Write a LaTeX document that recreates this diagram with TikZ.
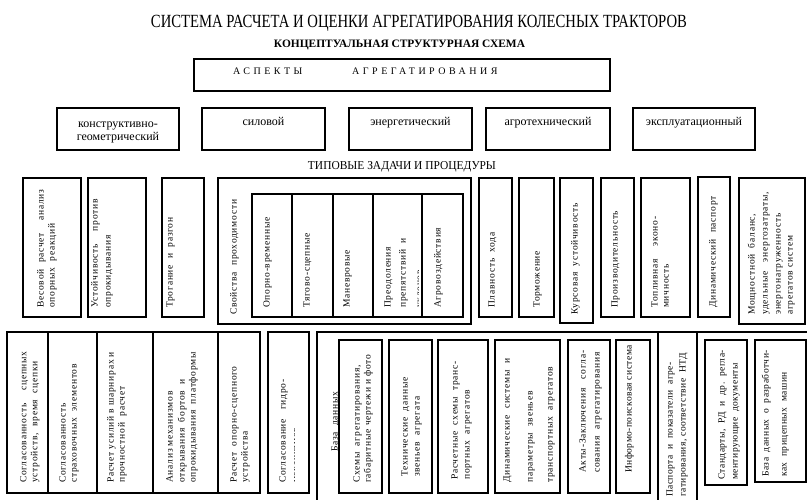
\documentclass[tikz,border=0pt]{standalone}
\usepackage{fontspec}
\setmainfont{Liberation Serif}
\newfontfamily\vfont[LetterSpace=8]{Liberation Serif}
\newfontfamily\mfont[LetterSpace=5]{Liberation Serif}
\newfontfamily\wfont[LetterSpace=35]{Liberation Serif}
\newcommand\Bx[6][]{\node[bx,#1, minimum width={(#4-#2)*1pt}, minimum height={(#6-#3)*1pt}] (#5) at ({(#2+#4)/2},{(#3+#6)/2}) {};}
\newcommand\Vt[4]{\node[vt] (#1) at ({#2+2.5},#3) {#4};}
\newcommand\Vm[4]{\node[vt, font=\mfont\fontsize{9.5}{11}\selectfont] (#1) at ({#2+2.5},#3) {#4};}
\begin{document}
\begin{tikzpicture}[x=1pt,y=-1pt,
  bx/.style={draw, line width=1.5pt, inner sep=0pt, outer sep=0pt},
  frame/.style={draw, line width=1.5pt},
  vt/.style={rotate=90, anchor=base west, inner sep=0pt, font=\vfont\fontsize{9.5}{11}\selectfont},
  asp/.style={font=\fontsize{12}{14}\selectfont, inner sep=0pt, anchor=base},
  hdr/.style={anchor=base west, inner sep=0pt, font=\wfont\fontsize{10}{12}\selectfont}]
\useasboundingbox (0,0) rectangle (807,499);
\fill[white] (0,0) rectangle (807,499);

% titles
\node[anchor=base, inner sep=0pt] (title) at (419,27.6) {\resizebox{536pt}{12.3pt}{СИСТЕМА РАСЧЕТА И ОЦЕНКИ АГРЕГАТИРОВАНИЯ КОЛЕСНЫХ ТРАКТОРОВ}};
\node[anchor=base, inner sep=0pt] (subtitle) at (399.5,47.5) {\resizebox{251pt}{7.5pt}{\bfseries КОНЦЕПТУАЛЬНАЯ СТРУКТУРНАЯ СХЕМА}};
\node[anchor=base, inner sep=0pt] (tasks) at (402,169.5) {\resizebox{188pt}{8pt}{ТИПОВЫЕ ЗАДАЧИ И ПРОЦЕДУРЫ}};

% aspects header
\Bx{194}{59}{610}{aspbox}{91}
\node[hdr] (asp1) at (233,74) {АСПЕКТЫ};
\node[hdr] (asp2) at (352,74) {АГРЕГАТИРОВАНИЯ};

% aspects row
\Bx{57}{108}{179}{k1}{150}
\Bx{202}{108}{325}{k2}{150}
\Bx{349}{108}{472}{k3}{150}
\Bx{486}{108}{610}{k4}{150}
\Bx{633}{108}{755}{k5}{150}
\node[asp] (k1a) at (118,127.5) {конструктивно-};
\node[asp] (k1b) at (118,140) {геометрический};
\node[asp] (k2t) at (263.5,125.5) {силовой};
\node[asp] (k3t) at (410.5,125.5) {энергетический};
\node[asp] (k4t) at (548,125.5) {агротехнический};
\node[asp] (k5t) at (694,125.5) {эксплуатационный};

% middle row boxes
\Bx{23}{178}{81}{m1}{317}
\Bx{88}{178}{146}{m2}{317}
\Bx{162}{178}{204}{m3}{317}
\Bx{218}{178}{471}{m4}{324}
\Bx{252}{194}{292}{m4a}{317}
\Bx{292}{194}{333}{m4b}{317}
\Bx{333}{194}{373}{m4c}{317}
\Bx{373}{194}{422}{m4d}{317}
\Bx{422}{194}{463}{m4e}{317}
\Bx{479}{178}{512}{m5}{317}
\Bx{519}{178}{554}{m6}{317}
\Bx{560}{178}{593}{m7}{323}
\Bx{601}{178}{634}{m8}{317}
\Bx{641}{178}{690}{m9}{317}
\Bx{698}{177}{730}{m10}{317}
\Bx{739}{178}{805}{m11}{324}

% middle row texts
\Vt{ta1}{41}{308}{Весовой\ \ расчет\ \ \ \ анализ}
\Vt{ta2}{52}{308}{опорных\ \ реакций}
\Vt{tb1}{95}{308}{Устойчивость\ \ \ \ против}
\Vt{tb2}{108}{308}{опрокидывания}
\Vt{tc1}{170}{308}{Трогание\ \ и\ \ разгон}
\Vt{td0}{234}{315}{Свойства\ \ проходимости}
\Vt{td1}{267}{308}{Опорно-временные}
\Vt{td2}{307}{308}{Тягово-сцепные}
\Vt{td3}{347}{308}{Маневровые}
\Vt{td4a}{388}{308}{Преодоления}
\Vt{td4b}{403}{308}{препятствий\ \ и}
\begin{scope}
\clip (405,200) rectangle (418.5,316);
\Vt{td4c}{419.5}{308}{уклонов}
\end{scope}
\Vt{td5}{438}{308}{Агровоздействия}
\Vt{te}{492}{308}{Плавность\ \ хода}
\Vt{tf}{537}{308}{Торможение}
\Vt{tg}{575}{315}{Курсовая\ \ устойчивость}
\Vt{th}{615}{308}{Производительность}
\Vt{ti1}{655}{308}{Топливная\ \ \ \ эконо-}
\Vt{ti2}{666}{308}{мичность}
\Vt{tj}{713}{308}{Динамический\ \ паспорт}
\Vt{tk1}{752}{315}{Мощностной\ \ баланс,}
\Vt{tk2}{765}{315}{удельные\ \ \ энергозатраты,}
\Vt{tk3}{778}{315}{энергонагруженность}
\Vt{tk4}{790}{315}{агрегатов\ систем}

% bottom row boxes
\Bx{7}{332}{48}{c1}{493}
\Bx{48}{332}{97}{c2}{493}
\Bx{97}{332}{153}{c3}{493}
\Bx{153}{332}{218}{c4}{493}
\Bx{218}{332}{260}{c5}{493}
\Bx{268}{332}{309}{c6}{493}
\draw[frame] (317,500) |- (658,332) -- (658,500);
\draw[frame] (658,332) -- (808,332);
\draw[frame] (697,332) -- (697,500);
\Bx{339}{340}{382}{d1}{493}
\Bx{389}{340}{432}{d2}{493}
\Bx{438}{340}{488}{d3}{493}
\Bx{495}{340}{560}{d4}{493}
\Bx{568}{340}{610}{d5}{493}
\Bx{616}{340}{650}{d6}{493}
\Bx{705}{340}{747}{e1}{485}
\Bx[line width=2.2pt]{755}{340}{806}{e2}{482}

% bottom row texts
\Vt{u1a}{24}{483}{Согласованность\ \ \ \ сцепных}
\Vt{u1b}{35}{483}{устройств,\ \ время\ \ сцепки}
\Vt{u2a}{63}{483}{Согласованность}
\Vt{u2b}{74}{483}{страховочных\ \ элементов}
\Vt{u3a}{111}{483}{Расчет усилий в шарнирах и}
\Vt{u3b}{122}{483}{прочностной\ \ расчет}
\Vt{u4a}{170}{483}{Анализ механизмов}
\Vt{u4b}{182}{483}{открывания\ \ бортов\ \ и}
\Vt{u4c}{193}{483}{опрокидывания\ \ платформы}
\Vt{u5a}{234}{483}{Расчет\ \ опорно-сцепного}
\Vt{u5b}{245}{483}{устройства}
\Vt{u6a}{283}{483}{Согласование\ \ \ гидро-}
\begin{scope}
\clip (285,400) rectangle (294.5,492);
\Vt{u6b}{296}{483}{механизмов}
\end{scope}
\Vt{v0}{335}{452}{База\ \ данных}
\Vt{v1a}{357}{483}{Схемы\ \ агрегатирования,}
\Vt{v1b}{368}{483}{габаритные\ чертежи\ и\ фото}
\Vt{v2a}{405}{477}{Технические\ \ данные}
\Vt{v2b}{417}{477}{звеньев\ \ агрегата}
\Vt{v3a}{455}{480}{Расчетные\ \ схемы\ \ транс-}
\Vt{v3b}{467}{480}{портных\ \ агрегатов}
\Vt{v4a}{507}{483}{Динамические\ \ системы\ \ и}
\Vt{v4b}{530}{483}{параметры\ \ звеньев}
\Vt{v4c}{550}{483}{транспортных\ \ агрегатов}
\Vt{v5a}{583}{473}{Акты-Заключения\ \ \ согла-}
\Vt{v5b}{597}{473}{сования\ \ агрегатирования}
\Vm{v6}{629}{473}{Информо-поисковая система}
\Vm{w1a}{670}{497}{Паспорта\ \ и\ \ показатели\ \ агре-}
\Vm{w1b}{683}{497}{гатирования,\ соответствие\ \ НТД}
\Vm{w2a}{722}{480}{Стандарты,\ \ РД\ \ и\ \ др.\ \ регла-}
\Vm{w2b}{735}{480}{ментирующие\ \ документы}
\Vm{w3a}{766}{477}{База\ \ данных\ \ о\ \ разработчи-}
\Vm{w3b}{784}{477}{ках\ \ прицепных\ \ машин}
\end{tikzpicture}
\end{document}
